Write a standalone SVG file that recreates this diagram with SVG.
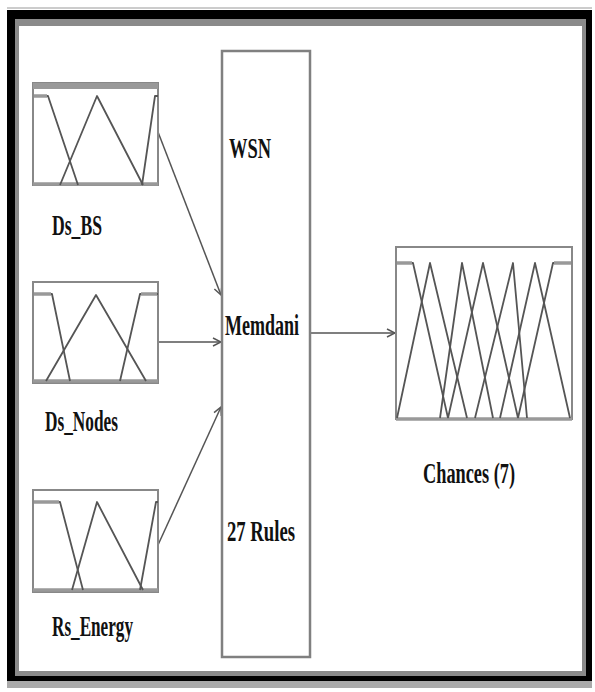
<svg xmlns="http://www.w3.org/2000/svg" width="595" height="692" viewBox="0 0 595 692">
<defs>
<style>
.frame{fill:none;stroke:#888;stroke-width:2}
.bar{stroke:#999;stroke-width:3.5;fill:none}
.mf{stroke:#555;stroke-width:1.8;fill:none;stroke-linejoin:round}
.conn{stroke:#555;stroke-width:1.5;fill:none}
.lbl{font-family:"Liberation Serif","Times New Roman",serif;font-weight:bold;font-size:29px;fill:#111}
</style>
<marker id="arr" viewBox="0 0 10 10" refX="9" refY="5" markerWidth="10" markerHeight="10" markerUnits="userSpaceOnUse" orient="auto">
<path d="M1,1 L9,5 L1,9" fill="none" stroke="#555" stroke-width="1.5"/>
</marker>
</defs>
<rect width="595" height="692" fill="#fff"/>
<!-- outer frame -->
<g id="frame">
<rect x="7" y="7" width="585" height="2" fill="#ccc"/>
<path d="M7,10 H592 V681 H7 Z M15,19 V676 H586 V19 Z" fill="#000" fill-rule="evenodd"/>
<path d="M15,19 H586 V676 H15 Z M19,26 V671 H582 V26 Z" fill="#8a8a8a" fill-rule="evenodd"/>
<rect x="7" y="681" width="585" height="7" fill="#aaa"/>
</g>
<!-- connectors -->
<g id="connectors">
<line class="conn" x1="158" y1="132" x2="221" y2="295" marker-end="url(#arr)"/>
<line class="conn" x1="158" y1="342" x2="221" y2="342" marker-end="url(#arr)"/>
<line class="conn" x1="158" y1="545" x2="221" y2="407" marker-end="url(#arr)"/>
<line class="conn" x1="310" y1="333" x2="395" y2="333" marker-end="url(#arr)"/>
</g>
<!-- Ds_BS -->
<g id="ds_bs">
<rect class="frame" x="33" y="83" width="125" height="102"/>
<rect x="33" y="83" width="125" height="6" fill="#999"/>
<line class="bar" x1="33" y1="184" x2="158" y2="184"/>
<polyline class="mf" points="34,96 48,96 78,185"/>
<polyline class="mf" points="60,185 97,96 143,185"/>
<polyline class="mf" points="142,185 155,96 158,96"/>
<line class="bar" x1="34" y1="96" x2="47" y2="96"/>
<text class="lbl" x="52" y="235" textLength="50" lengthAdjust="spacingAndGlyphs">Ds_BS</text>
</g>
<!-- Ds_Nodes -->
<g id="ds_nodes">
<rect class="frame" x="33" y="282" width="125" height="101"/>
<line class="bar" x1="33" y1="381" x2="158" y2="381"/>
<polyline class="mf" points="34,294 52,294 70,381"/>
<polyline class="mf" points="46,381 96,295 146,381"/>
<polyline class="mf" points="120,381 140,294 158,294"/>
<line class="bar" x1="34" y1="294" x2="51" y2="294"/>
<line class="bar" x1="141" y1="294" x2="157" y2="294"/>
<text class="lbl" x="45" y="431" textLength="73" lengthAdjust="spacingAndGlyphs">Ds_Nodes</text>
</g>
<!-- Rs_Energy -->
<g id="rs_energy">
<rect class="frame" x="33" y="490" width="125" height="102"/>
<line class="bar" x1="33" y1="590" x2="158" y2="590"/>
<polyline class="mf" points="34,502 60,502 83,590"/>
<polyline class="mf" points="72,590 97,502 143,590"/>
<polyline class="mf" points="140,590 156,502 158,502"/>
<line class="bar" x1="34" y1="502" x2="59" y2="502"/>
<text class="lbl" x="52" y="636" textLength="81" lengthAdjust="spacingAndGlyphs">Rs_Energy</text>
</g>
<!-- WSN engine -->
<g id="wsn">
<rect x="222" y="51" width="88" height="606" fill="#fff" stroke="#808080" stroke-width="2.5"/>
<text class="lbl" x="229" y="158" textLength="42" lengthAdjust="spacingAndGlyphs">WSN</text>
<text class="lbl" x="225" y="335" textLength="74" lengthAdjust="spacingAndGlyphs">Memdani</text>
<text class="lbl" x="227" y="541" textLength="68" lengthAdjust="spacingAndGlyphs">27 Rules</text>
</g>
<!-- Chances output -->
<g id="chances">
<rect class="frame" x="396" y="247" width="176" height="172"/>
<line class="bar" x1="396" y1="419" x2="572" y2="419"/>
<polyline class="mf" points="397,263 413,263 448,418"/>
<polyline class="mf" points="397,418 430,263 467,418"/>
<polyline class="mf" points="440,418 462,263 493,418"/>
<polyline class="mf" points="448,418 483,263 518,418"/>
<polyline class="mf" points="475,418 513,263 527,418"/>
<polyline class="mf" points="500,418 535,263 570,418"/>
<polyline class="mf" points="518,418 553,263 571,263"/>
<line class="bar" x1="397" y1="263" x2="412" y2="263"/>
<line class="bar" x1="554" y1="263" x2="571" y2="263"/>
<text class="lbl" x="423" y="483" textLength="92" lengthAdjust="spacingAndGlyphs">Chances (7)</text>
</g>
</svg>
